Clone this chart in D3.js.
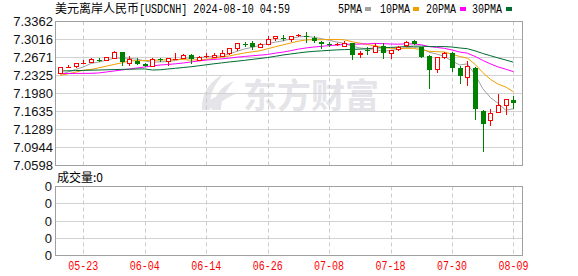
<!DOCTYPE html>
<html><head><meta charset="utf-8">
<script src="https://cdn.jsdelivr.net/npm/d3@7"></script>
<style>body{margin:0;background:#fff}svg{display:block}</style>
</head><body><svg id="c" width="578" height="276"></svg>
<script>
const dates = ["05-20","05-21","05-22","05-23","05-24","05-27","05-28","05-29","05-30","05-31",
"06-03","06-04","06-05","06-06","06-07","06-10","06-11","06-12","06-13","06-14",
"06-17","06-18","06-19","06-20","06-21","06-24","06-25","06-26","06-27","06-28",
"07-01","07-02","07-03","07-04","07-05","07-08","07-09","07-10","07-11","07-12",
"07-15","07-16","07-17","07-18","07-19","07-22","07-23","07-24","07-25","07-26",
"07-29","07-30","07-31","08-01","08-02","08-05","08-06","08-07","08-08","08-09"];
const open = [7.2377,7.2495,7.2504,7.2570,7.2594,7.2630,7.2619,7.2658,7.2767,7.2562,
7.2613,7.2542,7.2517,7.2640,7.2600,7.2648,7.2658,7.2723,7.2627,7.2690,
7.2684,7.2709,7.2748,7.2857,7.2935,7.2953,7.2863,7.2921,7.3049,7.3052,
7.3017,7.3090,7.3095,7.3049,7.2965,7.2930,7.2920,7.2901,7.2940,7.2729,
7.2815,7.2773,7.2901,7.2761,7.2825,7.2907,7.2984,7.2869,7.2709,7.2441,
7.2677,7.2761,7.2460,7.2301,7.2460,7.1640,7.1475,7.1621,7.1755,7.1855];
const high = [7.2489,7.2520,7.2575,7.2619,7.2652,7.2658,7.2675,7.2792,7.2770,7.2709,
7.2665,7.2569,7.2652,7.2671,7.2671,7.2761,7.2734,7.2730,7.2709,7.2761,
7.2761,7.2811,7.2848,7.2945,7.2972,7.2984,7.2953,7.3093,7.3085,7.3099,
7.3085,7.3118,7.3157,7.3080,7.2984,7.2965,7.2950,7.2997,7.2945,7.2792,
7.2876,7.2953,7.2940,7.2815,7.2888,7.2997,7.3003,7.2880,7.2715,7.2690,
7.2780,7.2786,7.2504,7.2613,7.2498,7.1663,7.1673,7.1961,7.1870,7.1928];
const low = [7.2345,7.2460,7.2469,7.2542,7.2569,7.2581,7.2610,7.2650,7.2504,7.2504,
7.2535,7.2493,7.2510,7.2581,7.2517,7.2645,7.2633,7.2537,7.2620,7.2665,
7.2652,7.2696,7.2723,7.2792,7.2876,7.2811,7.2857,7.2915,7.2997,7.2984,
7.2972,7.3068,7.2953,7.2953,7.2838,7.2876,7.2895,7.2895,7.2619,7.2652,
7.2715,7.2761,7.2646,7.2646,7.2792,7.2876,7.2915,7.2670,7.2057,7.2364,
7.2646,7.2389,7.2153,7.2120,7.1468,7.0853,7.1352,7.1602,7.1571,7.1673];
const close = [7.2489,7.2500,7.2569,7.2580,7.2646,7.2625,7.2671,7.2767,7.2581,7.2633,
7.2542,7.2504,7.2633,7.2630,7.2652,7.2655,7.2723,7.2646,7.2684,7.2700,
7.2719,7.2748,7.2844,7.2940,7.2925,7.2876,7.2921,7.3030,7.3080,7.3045,
7.3080,7.3100,7.3085,7.2984,7.2921,7.2921,7.2930,7.2953,7.2715,7.2761,
7.2805,7.2901,7.2761,7.2811,7.2863,7.2972,7.2921,7.2684,7.2427,7.2684,
7.2748,7.2473,7.2312,7.2517,7.1673,7.1404,7.1610,7.1750,7.1865,7.1802];
const ma5 = [7.2345,7.2393,7.2441,7.2489,7.2557,7.2584,7.2618,7.2658,7.2658,7.2655,
7.2639,7.2605,7.2579,7.2588,7.2592,7.2615,7.2659,7.2661,7.2672,7.2682,
7.2694,7.2699,7.2739,7.2790,7.2835,7.2867,7.2901,7.2938,7.2966,7.2990,
7.3031,7.3067,7.3078,7.3059,7.3034,7.3002,7.2968,7.2942,7.2888,7.2856,
7.2833,7.2827,7.2789,7.2808,7.2828,7.2862,7.2866,7.2850,7.2773,7.2738,
7.2693,7.2603,7.2529,7.2547,7.2345,7.2076,7.1903,7.1791,7.1660,7.1686];
const ma10 = [7.2326,7.2358,7.2389,7.2427,7.2441,7.2473,7.2504,7.2537,7.2569,7.2606,
7.2611,7.2612,7.2618,7.2623,7.2624,7.2627,7.2632,7.2620,7.2630,7.2637,
7.2655,7.2679,7.2700,7.2731,7.2758,7.2781,7.2800,7.2839,7.2878,7.2913,
7.2949,7.2984,7.3008,7.3013,7.3012,7.3017,7.3018,7.3010,7.2973,7.2945,
7.2918,7.2898,7.2865,7.2848,7.2842,7.2847,7.2846,7.2819,7.2791,7.2783,
7.2777,7.2734,7.2690,7.2660,7.2541,7.2384,7.2253,7.2160,7.2104,7.2015];
const ma20 = [7.2362,7.2364,7.2365,7.2366,7.2368,7.2374,7.2393,7.2412,7.2431,7.2450,
7.2470,7.2489,7.2508,7.2527,7.2537,7.2550,7.2566,7.2585,7.2604,7.2622,
7.2633,7.2645,7.2659,7.2677,7.2691,7.2704,7.2716,7.2729,7.2754,7.2775,
7.2802,7.2832,7.2854,7.2872,7.2885,7.2899,7.2909,7.2924,7.2926,7.2929,
7.2933,7.2941,7.2937,7.2930,7.2927,7.2932,7.2932,7.2915,7.2882,7.2864,
7.2847,7.2816,7.2777,7.2754,7.2692,7.2616,7.2550,7.2490,7.2447,7.2399];
const ma30 = [7.2412,7.2416,7.2420,7.2423,7.2427,7.2431,7.2435,7.2439,7.2443,7.2446,
7.2450,7.2452,7.2431,7.2435,7.2450,7.2464,7.2479,7.2493,7.2512,7.2531,
7.2550,7.2567,7.2585,7.2600,7.2617,7.2635,7.2652,7.2671,7.2694,7.2719,
7.2738,7.2758,7.2776,7.2789,7.2798,7.2808,7.2817,7.2823,7.2827,7.2832,
7.2840,7.2854,7.2858,7.2864,7.2871,7.2882,7.2888,7.2889,7.2881,7.2880,
7.2881,7.2872,7.2854,7.2840,7.2799,7.2749,7.2706,7.2663,7.2623,7.2581];
const yTickLabels = ["7.3362","7.3016","7.2671","7.2325","7.1980","7.1635","7.1289","7.0944","7.0598"];
const xTickLabels = ["05-23","06-04","06-14","06-26","07-08","07-18","07-30","08-09"];
const volTickLabels = ["0","0","0","0","0"];
const legendNames = ["5PMA","10PMA","20PMA","30PMA"];
const maColors = ["#a0a0a0","#f0a000","#ff00ff","#006c32"];

const svg = d3.select("#c");
const L = 55.5, R = 522.5, T = 21.5, B = 165.5, VT = 186.5, VB = 255.5;
const x = d3.scalePoint().domain(dates).range([60.3, 513.4]);
const y = d3.scaleLinear().domain([7.0598, 7.3362]).range([B, T]);
const yv = d3.scaleLinear().domain([0, 4]).range([VB, VT]);
const UP = "#ff0000", DOWN = "#008000";

// watermark
const wm = svg.append("g").attr("fill", "#e4e4e9");
wm.append("path").attr("d", "M202,110 C201,95 209,81 224,74 C214,84 209,96 210,110 Z");
wm.append("path").attr("d", "M212,110 C213,97 221,86 234,81 C226,90 221,99 221,110 Z");
wm.append("path").attr("d", "M205,104 C214,96 226,92 238,93 C228,97 219,102 213,110 Z");
wm.append("text").attr("x", 243).attr("y", 108).attr("font-family", "Noto Sans CJK SC")
  .attr("font-weight", "bold").attr("font-size", 34).attr("textLength", 136)
  .attr("lengthAdjust", "spacingAndGlyphs").text("东方财富");

// horizontal grids
const yTickVals = yTickLabels.map(Number);
svg.append("g").selectAll("line").data(yTickVals.slice(1, -1)).join("line")
  .attr("x1", L).attr("x2", R).attr("y1", d => Math.round(y(d) - 0.5) + 0.5).attr("y2", d => Math.round(y(d) - 0.5) + 0.5)
  .attr("stroke", "#d2d2d2");
svg.append("g").selectAll("line").data([1, 2, 3]).join("line")
  .attr("x1", L).attr("x2", R).attr("y1", d => Math.round(yv(d) - 0.5) + 0.5).attr("y2", d => Math.round(yv(d) - 0.5) + 0.5)
  .attr("stroke", "#d2d2d2");

// vertical dashed grids
const vg = svg.append("g").attr("stroke", "#cccccc").attr("stroke-dasharray", "4,3");
xTickLabels.forEach(lab => {
  const xx = Math.round(x(lab)) + 0.5;
  vg.append("line").attr("x1", xx).attr("x2", xx).attr("y1", T).attr("y2", B);
  vg.append("line").attr("x1", xx).attr("x2", xx).attr("y1", VT).attr("y2", VB);
});

// borders
svg.append("rect").attr("x", L).attr("y", T).attr("width", R - L).attr("height", B - T)
  .attr("fill", "none").attr("stroke", "#a0a0a0");
svg.append("rect").attr("x", L).attr("y", VT).attr("width", R - L).attr("height", VB - VT)
  .attr("fill", "none").attr("stroke", "#a0a0a0");

// MA lines
[ma5, ma10, ma20, ma30].forEach((arr, k) => {
  const line = d3.line().x((d, i) => x(dates[i])).y(d => y(d));
  svg.append("path").attr("d", line(arr)).attr("fill", "none")
    .attr("stroke", maColors[k]).attr("stroke-width", 1);
});

// candles
const cg = svg.append("g").attr("shape-rendering", "crispEdges");
dates.forEach((d, i) => {
  const cx = Math.round(x(d));
  const o = open[i], c = close[i], h = high[i], l = low[i];
  const up = c >= o;
  const col = up ? UP : DOWN;
  const yo = y(o), yc = y(c), yh = y(h), yl = y(l);
  const top = Math.min(yo, yc), bot = Math.max(yo, yc);
  const wx = cx + 0.5;
  cg.append("line").attr("x1", wx).attr("x2", wx).attr("y1", yh).attr("y2", yl).attr("stroke", col);
  if (bot - top < 1.3) {
    const ym = Math.round((top + bot) / 2) + 0.5;
    cg.append("line").attr("x1", cx - 2).attr("x2", cx + 3).attr("y1", ym).attr("y2", ym).attr("stroke", col);
  } else if (up) {
    cg.append("rect").attr("x", cx - 1.5).attr("y", Math.round(top) + 0.5).attr("width", 4)
      .attr("height", Math.max(1, Math.round(bot) - Math.round(top))).attr("fill", "#fff").attr("stroke", col);
  } else {
    cg.append("rect").attr("x", cx - 2).attr("y", Math.round(top)).attr("width", 5)
      .attr("height", Math.max(1, Math.round(bot) - Math.round(top))).attr("fill", col);
  }
});

// y labels
svg.append("g").selectAll("text").data(yTickLabels).join("text")
  .attr("x", 53).attr("y", d => y(+d)).attr("dy", "0.36em").attr("text-anchor", "end")
  .attr("font-family", "Liberation Sans, Arial, sans-serif").attr("font-size", 13).attr("fill", "#111")
  .text(d => d);
svg.append("g").selectAll("text").data(volTickLabels).join("text")
  .attr("x", 52).attr("y", (d, i) => yv(4 - i)).attr("dy", "0.36em").attr("text-anchor", "end")
  .attr("font-family", "Liberation Sans, Arial, sans-serif").attr("font-size", 13).attr("fill", "#111")
  .text(d => d);

// x labels
svg.append("g").selectAll("text").data(xTickLabels).join("text")
  .attr("x", d => x(d) - 15).attr("y", 270)
  .attr("font-family", "Liberation Mono, monospace").attr("font-size", 12).attr("fill", "#ff0000")
  .attr("textLength", 30).attr("lengthAdjust", "spacingAndGlyphs").text(d => d);

// title
svg.append("text").attr("x", 55).attr("y", 13).attr("font-family", "Noto Sans CJK SC")
  .attr("font-size", 12).attr("textLength", 84).attr("lengthAdjust", "spacingAndGlyphs").attr("fill", "#000")
  .text("美元离岸人民币");
svg.append("text").attr("x", 139).attr("y", 13).attr("font-family", "Liberation Mono, monospace")
  .attr("font-size", 12).attr("textLength", 151).attr("lengthAdjust", "spacingAndGlyphs").attr("fill", "#000")
  .text("[USDCNH] 2024-08-10 04:59");

// legend
const legX = [338, 380, 426, 472];
const sqX = [365, 413, 460, 506];
legendNames.forEach((n, k) => {
  svg.append("text").attr("x", legX[k]).attr("y", 13).attr("font-family", "Liberation Mono, monospace")
    .attr("font-size", 12).attr("textLength", n.length * 6).attr("lengthAdjust", "spacingAndGlyphs")
    .attr("fill", "#000").text(n);
  svg.append("rect").attr("x", sqX[k]).attr("y", 7).attr("width", 6).attr("height", 4).attr("fill", maColors[k]);
});

// volume label
svg.append("text").attr("x", 57).attr("y", 182).attr("font-family", "Noto Sans CJK SC")
  .attr("font-size", 12).attr("fill", "#000").text("成交量:0");
</script></body></html>
